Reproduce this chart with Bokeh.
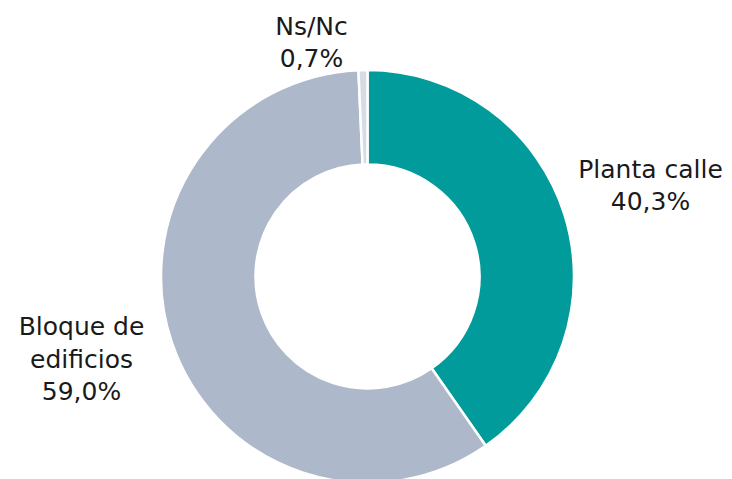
import numpy as np
from bokeh.plotting import figure
from bokeh.models import Range1d, ColumnDataSource
from bokeh.core.properties import value
from bokeh.embed import file_html
from bokeh.resources import INLINE

# data (clockwise from 12 o'clock)
categories = ["Planta calle", "Bloque de edificios", "Ns/Nc"]
shares = [40.3, 59.0, 0.7]
label_texts = ["Planta calle\n40,3%", "Bloque de\nedificios\n59,0%", "Ns/Nc\n0,7%"]
colors = ["#009B9A", "#ADB8CA", "#D5DCE6"]

W, H = 732, 479
cx, cy = 367, 203
r_out, r_in = 206.5, 112

vals = np.array(shares)
frac = vals / vals.sum()
cum = np.concatenate([[0], np.cumsum(frac)])
start = np.pi / 2 - cum[:-1] * 2 * np.pi
end = np.pi / 2 - cum[1:] * 2 * np.pi

src = ColumnDataSource(dict(start=list(start), end=list(end), color=colors, cat=categories))

p = figure(width=W, height=H, output_backend="svg", toolbar_location=None,
           x_range=Range1d(0, W), y_range=Range1d(0, H), min_border=0)
p.axis.visible = False
p.grid.visible = False
p.outline_line_color = None
p.background_fill_color = "white"

p.annular_wedge(x=cx, y=cy, inner_radius=r_in, outer_radius=r_out,
                start_angle="start", end_angle="end", direction="clock",
                fill_color="color", line_color="white", line_width=2.5, source=src)

# label block centres and line spacing (layout)
lx = [650, 81, 311]
ly = [294, 120.5, 437]
line_gap = 32.5

tx, ty, tt = [], [], []
for x0, y0, s in zip(lx, ly, label_texts):
    lines = s.split("\n")
    n = len(lines)
    for i, ln in enumerate(lines):
        tx.append(x0)
        ty.append(y0 + (n - 1) / 2 * line_gap - i * line_gap)
        tt.append(ln)

p.text(x=tx, y=ty, text=tt, text_align="center", text_baseline="middle",
       text_font=value("DejaVu Sans"), text_font_size="25px", text_color="#1a1a1a")

open("out.html", "w").write(file_html(p, INLINE))
